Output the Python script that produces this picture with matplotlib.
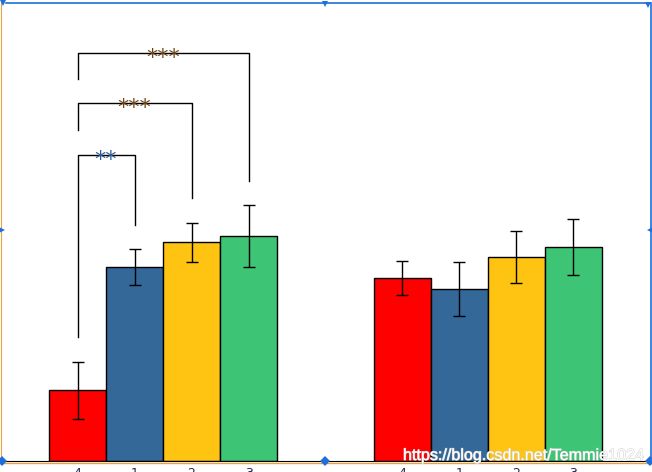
import matplotlib.pyplot as plt
import matplotlib.patheffects as pe
from matplotlib.lines import Line2D

# data
groups = ["A", "B"]
labels = ["4", "1", "2", "3"]
colors = ["#ff0000", "#346898", "#ffc312", "#3dc474"]
means_a = [0.71, 1.94, 2.19, 2.25]
errs_a = [0.285, 0.18, 0.195, 0.305]
means_b = [1.83, 1.72, 2.04, 2.14]
errs_b = [0.17, 0.27, 0.26, 0.28]
pos_a = [0, 1, 2, 3]
pos_b = [5.7, 6.7, 7.7, 8.7]

# significance brackets: (x left, x right, top, left bottom, right bottom, stars)
brackets = [
    (0, 1, 3.06, 1.24, 2.36, "**"),
    (0, 2, 3.58, 3.31, 2.63, "***"),
    (0, 3, 4.08, 3.82, 2.80, "***"),
]
star_colors = ["#2c5c94", "#6a4414", "#6a4414"]

fig = plt.figure(figsize=(6.52, 4.72), dpi=100)
ax = fig.add_axes([1 / 652, 11 / 472, 650 / 652, 459 / 472])

for pos, means, errs in [(pos_a, means_a, errs_a), (pos_b, means_b, errs_b)]:
    ax.bar(pos, means, width=1, color=colors, edgecolor="black", linewidth=1, zorder=2)
    ax.errorbar(pos, means, yerr=errs, fmt="none", ecolor="black", elinewidth=1,
                capsize=4.5, capthick=1, zorder=3)

for (x1, x2, top, b1, b2, s), c in zip(brackets, star_colors):
    ax.plot([x1, x1, x2, x2], [b1, top, top, b2], color="black", lw=1, zorder=3)
    # the asterisk glyph sits high in its box, so nudge it down onto the line
    ax.text((x1 + x2) / 2, top - 0.045, s, ha="center", va="center", fontsize=16,
            color=c, zorder=4)

ax.set_xlim(-1.342, 10.06)
ax.set_ylim(0, 4.59)
ax.set_xticks(pos_a + pos_b)
ax.set_xticklabels(labels + labels, fontsize=9, color="#2a2a50")
ax.tick_params(axis="x", length=0, pad=4)
ax.set_yticks([])
for side in ["top", "right"]:
    ax.spines[side].set_visible(False)
ax.spines["left"].set_color("#e8a33c")
ax.spines["bottom"].set_color("black")

# watermark
fig.text(403 / 652, 1 - 460 / 472, "https://blog.csdn.net/Temmie1024", fontsize=11.6,
         family="Liberation Sans", color="white", ha="left", va="baseline",
         path_effects=[pe.withStroke(linewidth=0.7, foreground="#cfcfcf")])

# selection frame from the editor
W, H = 652, 472
def fx(p):
    return p / W
def fy(p):
    return 1 - p / H
blue = "#1e6fdc"
fig.add_artist(Line2D([fx(6), fx(650)], [fy(2.5), fy(2.5)], color=blue, lw=1.2))
fig.add_artist(Line2D([fx(650.5), fx(650.5)], [fy(3), fy(460)], color=blue, lw=1.2))
fig.add_artist(Line2D([fx(0), fx(650)], [fy(462.5), fy(462.5)], color="#e8a33c", lw=1))
for (px, py, m) in [(325, 4, "v"), (2, 230, ">"), (650, 230, "<"), (325, 461, "D"),
                    (2, 461, "D"), (650, 461, "D"), (3, 3, "v"), (648, 5, "v")]:
    fig.add_artist(Line2D([fx(px)], [fy(py)], marker=m, color=blue, markersize=5,
                          markeredgewidth=0))

fig.savefig("out.png", dpi=100)
